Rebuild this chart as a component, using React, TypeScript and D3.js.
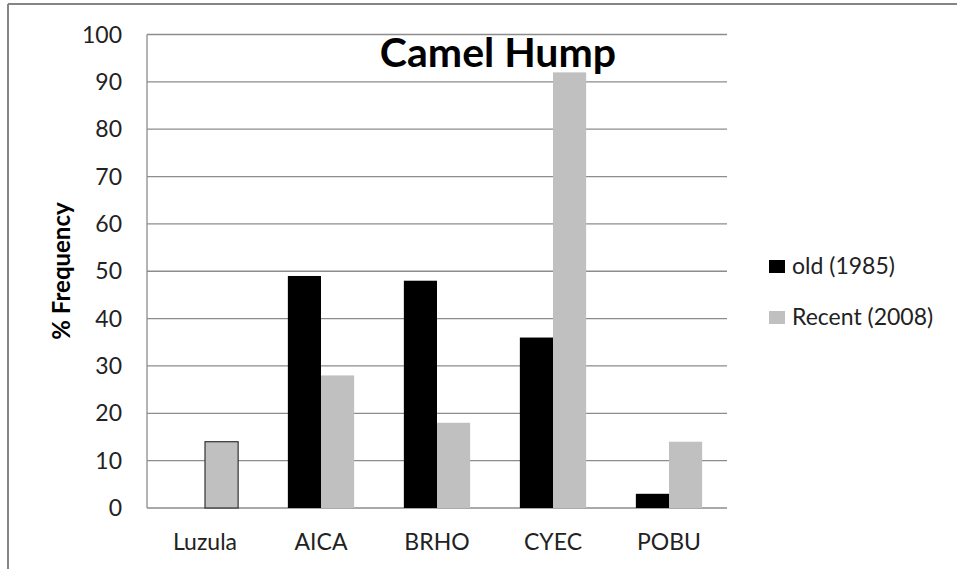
import React, { useEffect, useRef } from "react";
import * as d3 from "d3";

const categories = ["Luzula", "AICA", "BRHO", "CYEC", "POBU"];
const oldValues = [0, 49, 48, 36, 3];
const recentValues = [14, 28, 18, 92, 14];
const seriesNames = ["old (1985)", "Recent (2008)"];
const seriesColors = ["#000000", "#c0c0c0"];
const yTicks = [0, 10, 20, 30, 40, 50, 60, 70, 80, 90, 100];

const W = 957;
const H = 569;
const font = "Lato, 'Open Sans', sans-serif";

export default function App() {
  const ref = useRef<SVGSVGElement>(null);

  useEffect(() => {
    const svg = d3.select(ref.current);
    svg.selectAll("*").remove();

    const left = 147;
    const right = 727;
    const top = 34.5;
    const bottom = 508;

    const x = d3.scaleBand().domain(categories).range([left, right]).paddingInner(0).paddingOuter(0);
    const y = d3.scaleLinear().domain([0, 100]).range([bottom, top]);
    const barW = x.bandwidth() / 3.5;

    // outer frame (cropped, only top and left visible)
    svg.append("line").attr("x1", 8).attr("x2", W).attr("y1", 4).attr("y2", 4)
      .attr("stroke", "#858585").attr("stroke-width", 2);
    svg.append("line").attr("x1", 8).attr("x2", 8).attr("y1", 4).attr("y2", H)
      .attr("stroke", "#858585").attr("stroke-width", 2);

    // gridlines
    svg.append("g").selectAll("line").data(yTicks).join("line")
      .attr("x1", left).attr("x2", right)
      .attr("y1", (d) => y(d)).attr("y2", (d) => y(d))
      .attr("stroke", "#8c8c8c").attr("stroke-width", 1.3);

    // y axis line
    svg.append("line").attr("x1", left).attr("x2", left).attr("y1", top).attr("y2", bottom)
      .attr("stroke", "#8c8c8c").attr("stroke-width", 1.3);

    // y tick labels
    svg.append("g").selectAll("text").data(yTicks).join("text")
      .attr("x", 122).attr("y", (d) => y(d) + 8)
      .attr("text-anchor", "end")
      .attr("font-family", font).attr("font-size", 23).attr("fill", "#222")
      .text((d) => d);

    // bars
    const rows = categories.map((c, i) => ({ c, vals: [oldValues[i], recentValues[i]] }));
    const g = svg.append("g");
    rows.forEach((r) => {
      const cx = (x(r.c) as number) + x.bandwidth() / 2;
      r.vals.forEach((v, s) => {
        if (v <= 0) return;
        g.append("rect")
          .attr("x", cx - barW + s * barW)
          .attr("y", y(v))
          .attr("width", barW)
          .attr("height", bottom - y(v))
          .attr("fill", seriesColors[s])
          .attr("stroke", r.c === "Luzula" ? "#333" : "none")
          .attr("stroke-width", 1.2);
      });
    });

    // category labels
    svg.append("g").selectAll("text").data(categories).join("text")
      .attr("x", (d) => (x(d) as number) + x.bandwidth() / 2)
      .attr("y", 550)
      .attr("text-anchor", "middle")
      .attr("font-family", font).attr("font-size", 23).attr("fill", "#222")
      .text((d) => d);

    // title
    svg.append("text").attr("x", 498).attr("y", 67)
      .attr("text-anchor", "middle")
      .attr("font-family", font).attr("font-weight", "bold").attr("font-size", 41)
      .attr("fill", "#000").text("Camel Hump");

    // y axis title
    svg.append("text")
      .attr("transform", "translate(70,271) rotate(-90)")
      .attr("text-anchor", "middle")
      .attr("font-family", font).attr("font-weight", "bold").attr("font-size", 24)
      .attr("fill", "#000").text("% Frequency");

    // legend
    const lg = svg.append("g").selectAll("g").data(seriesNames).join("g")
      .attr("transform", (d, i) => `translate(769,${260 + i * 51})`);
    lg.append("rect").attr("width", 16).attr("height", 13)
      .attr("fill", (d, i) => seriesColors[i]);
    lg.append("text").attr("x", 23).attr("y", 14)
      .attr("font-family", font).attr("font-size", 23).attr("fill", "#222")
      .text((d) => d);
  }, []);

  return (
    <svg ref={ref} width={W} height={H} style={{ position: "absolute", left: 0, top: 0, background: "#fff" }} />
  );
}
